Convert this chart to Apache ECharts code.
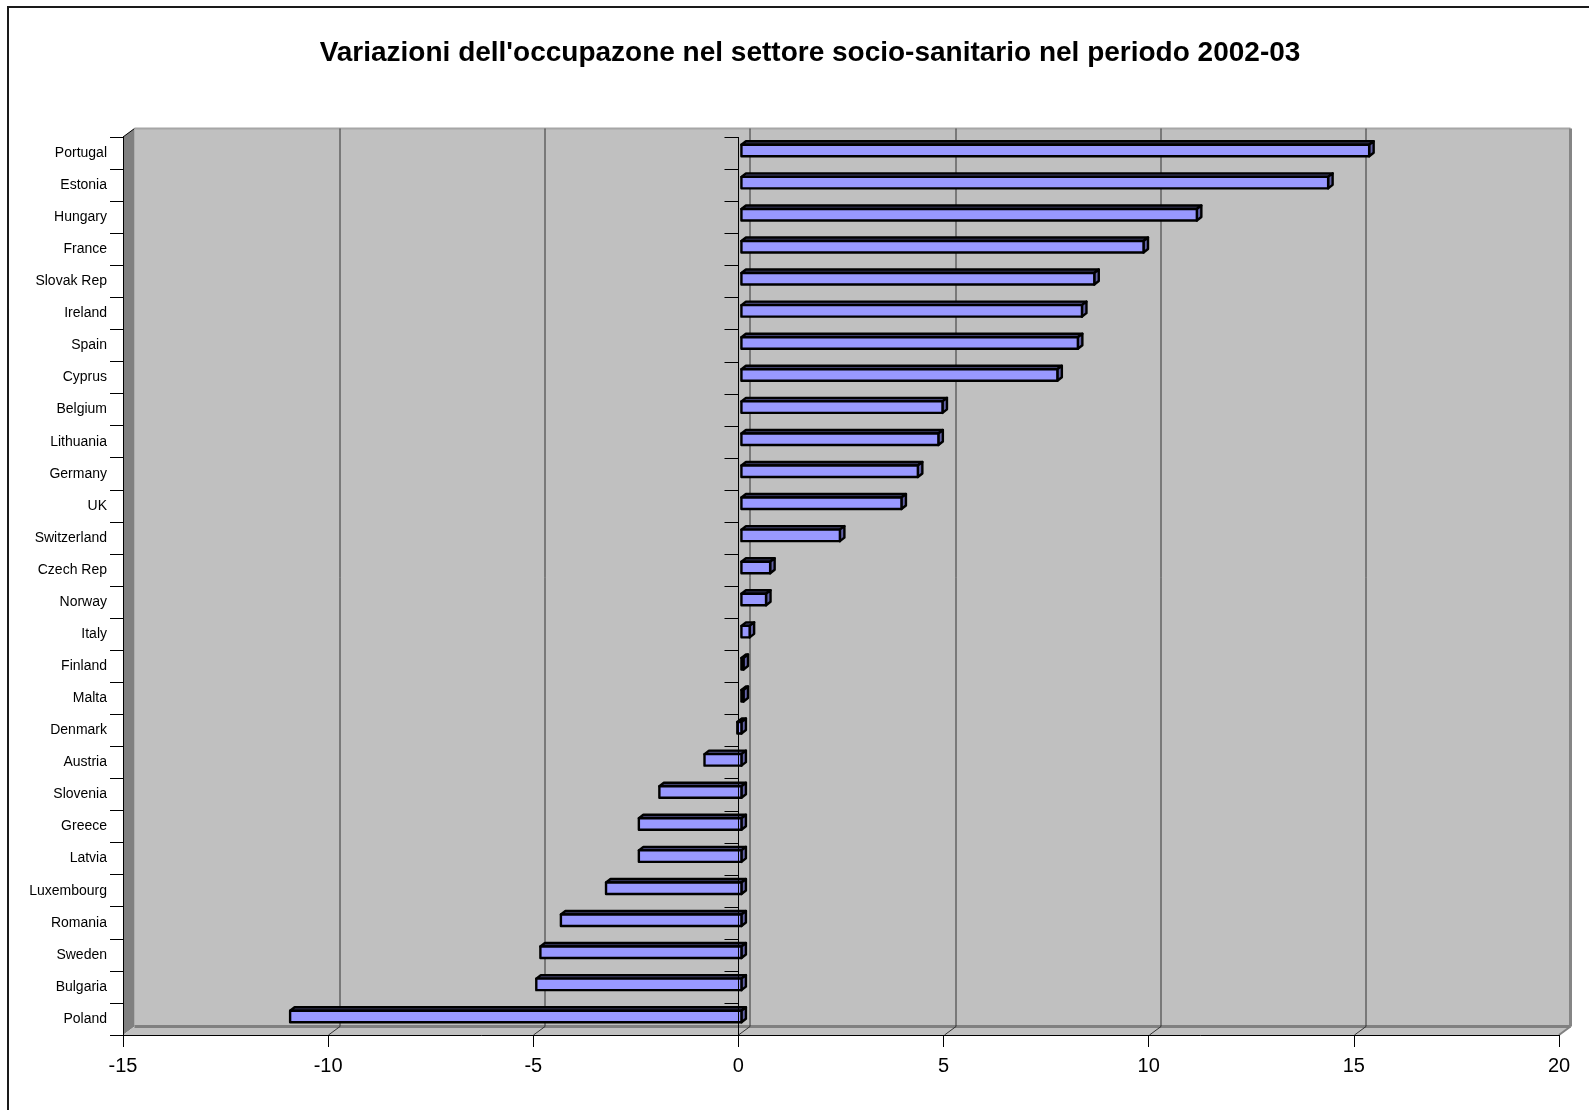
<!DOCTYPE html>
<html>
<head>
<meta charset="utf-8">
<script src="https://cdn.jsdelivr.net/npm/echarts@6/dist/echarts.min.js"></script>
<style>
  html, body { margin: 0; padding: 0; background: #ffffff; }
  #chart { width: 1589px; height: 1110px; }
</style>
</head>
<body>
<div id="chart"></div>
<script>
// Employment change in the health & social sector, 2002-03 (percent)
const countries = [
  'Portugal', 'Estonia', 'Hungary', 'France', 'Slovak Rep', 'Ireland', 'Spain',
  'Cyprus', 'Belgium', 'Lithuania', 'Germany', 'UK', 'Switzerland', 'Czech Rep',
  'Norway', 'Italy', 'Finland', 'Malta', 'Denmark', 'Austria', 'Slovenia',
  'Greece', 'Latvia', 'Luxembourg', 'Romania', 'Sweden', 'Bulgaria', 'Poland'
];
const changes = [
  15.3, 14.3, 11.1, 9.8, 8.6, 8.3, 8.2,
  7.7, 4.9, 4.8, 4.3, 3.9, 2.4, 0.7,
  0.6, 0.2, 0.05, 0.05, -0.1, -0.9, -2.0,
  -2.5, -2.5, -3.3, -4.4, -4.9, -5.0, -11.0
];
const valueTicks = [-15, -10, -5, 0, 5, 10, 15, 20];
const titleText = "Variazioni dell'occupazone nel settore socio-sanitario nel periodo 2002-03";

const FONT = '"Liberation Sans", Arial, sans-serif';

// pseudo-3D depth of the plot box (back wall offset from the front plane)
const WALL_DX = 11.5, WALL_DY = -8.5;
// bar slab: shift of its front face, half height and depth
const BAR_FX = 3, BAR_FY = -2.5, BAR_HALF = 5.75, BAR_DX = 4.5, BAR_DY = -3.5;

const chart = echarts.init(document.getElementById('chart'), null, { renderer: 'canvas' });

function wallsItem(params) {
  const cs = params.coordSys;
  const x0 = cs.x, x1 = cs.x + cs.width, t = cs.y, b = cs.y + cs.height;
  const dx = WALL_DX, dy = WALL_DY;
  return {
    type: 'group',
    children: [
      // back wall
      { type: 'rect', shape: { x: x0 + dx, y: t + dy, width: x1 - x0, height: b - t },
        style: { fill: '#c0c0c0', stroke: null } },
      // left side wall
      { type: 'polygon', shape: { points: [[x0, t], [x0 + dx, t + dy], [x0 + dx, b + dy], [x0, b]] },
        style: { fill: '#808080', stroke: null } },
      { type: 'line', shape: { x1: x0, y1: t, x2: x0 + dx, y2: t + dy },
        style: { stroke: '#000', lineWidth: 1 } },
      // floor
      { type: 'polygon', shape: { points: [[x0, b], [x0 + dx, b + dy], [x1 + dx, b + dy], [x1, b]] },
        style: { fill: '#c0c0c0', stroke: null } },
      // wall borders
      { type: 'line', shape: { x1: x0 + dx, y1: t + dy, x2: x1 + dx, y2: t + dy },
        style: { stroke: '#a6a6a6', lineWidth: 2 } },
      { type: 'line', shape: { x1: x1 + dx, y1: t + dy, x2: x1 + dx, y2: b + dy },
        style: { stroke: '#858585', lineWidth: 3 } },
      { type: 'line', shape: { x1: x0 + dx, y1: b + dy, x2: x1 + dx, y2: b + dy },
        style: { stroke: '#808080', lineWidth: 3 } },
      { type: 'line', shape: { x1: x1, y1: b, x2: x1 + dx, y2: b + dy },
        style: { stroke: '#808080', lineWidth: 2 } }
    ]
  };
}

function gridItem(params, api) {
  const v = api.value(0);
  const cs = params.coordSys;
  const t = cs.y, b = cs.y + cs.height;
  const x = Math.round(api.coord([v, 0])[0]) + 0.5;
  if (v === valueTicks[0] || v === valueTicks[valueTicks.length - 1]) return null;
  return {
    type: 'group',
    children: [
      { type: 'line', shape: { x1: x + WALL_DX, y1: t + WALL_DY, x2: x + WALL_DX, y2: b + WALL_DY },
        style: { stroke: '#333333', lineWidth: 1 } },
      { type: 'line', shape: { x1: x, y1: b, x2: x + WALL_DX, y2: b + WALL_DY },
        style: { stroke: '#333333', lineWidth: 1 } }
    ]
  };
}

function barItem(params, api) {
  const v = api.value(0), idx = api.value(1);
  const a = api.coord([0, idx]);
  const c = api.coord([v, idx]);
  const xl = Math.min(a[0], c[0]) + BAR_FX;
  const xr = Math.max(a[0], c[0]) + BAR_FX;
  const yc = a[1] + BAR_FY;
  const yt = yc - BAR_HALF, yb = yc + BAR_HALF;
  const edge = { stroke: '#000', lineWidth: 2.4, lineJoin: 'round' };
  return {
    type: 'group',
    children: [
      { type: 'polygon',
        shape: { points: [[xl, yt], [xl + BAR_DX, yt + BAR_DY], [xr + BAR_DX, yt + BAR_DY], [xr, yt]] },
        style: Object.assign({ fill: '#40406b' }, edge) },
      { type: 'polygon',
        shape: { points: [[xr, yt], [xr + BAR_DX, yt + BAR_DY], [xr + BAR_DX, yb + BAR_DY], [xr, yb]] },
        style: Object.assign({ fill: '#6363a6' }, edge) },
      { type: 'rect', shape: { x: xl, y: yt, width: xr - xl, height: yb - yt },
        style: Object.assign({ fill: '#9999ff' }, edge) }
    ]
  };
}

// category axis crossing the value axis at zero, with its own ticks
function zeroAxisItem(params, api) {
  const cs = params.coordSys;
  const x = Math.round(api.coord([0, 0])[0]) + 0.5;
  const band = api.size([0, 1])[1];
  const children = [
    { type: 'line', shape: { x1: x, y1: cs.y, x2: x, y2: cs.y + cs.height },
      style: { stroke: '#000', lineWidth: 1 } }
  ];
  for (let k = 0; k < countries.length; k++) {
    const y = Math.round(cs.y + k * band) + 0.5;
    children.push({ type: 'line', shape: { x1: x - 14, y1: y, x2: x, y2: y },
      style: { stroke: '#000', lineWidth: 1 } });
  }
  return { type: 'group', children };
}

const option = {
  backgroundColor: '#ffffff',
  animation: false,
  grid: { left: 123, right: 30, top: 137, bottom: 75, containLabel: false },
  xAxis: {
    type: 'value',
    min: -15, max: 20, interval: 5,
    z: 10,
    axisLine: { show: true, onZero: false, lineStyle: { color: '#000', width: 1 } },
    axisTick: { show: true, length: 12, lineStyle: { color: '#000', width: 1 } },
    axisLabel: {
      show: true, fontSize: 20, color: '#000', fontFamily: FONT, margin: 21,
      showMinLabel: true, showMaxLabel: true,
      formatter: v => String(v)
    },
    splitLine: { show: false }
  },
  yAxis: {
    type: 'category',
    data: countries,
    inverse: true,
    z: 10,
    axisLine: { show: true, onZero: false, lineStyle: { color: '#000', width: 1 } },
    axisTick: { show: true, length: 13, lineStyle: { color: '#000', width: 1 } },
    axisLabel: { fontSize: 14, color: '#000', fontFamily: FONT, margin: 16, interval: 0 },
    splitLine: { show: false }
  },
  graphic: [
    { type: 'rect', z: 100, silent: true,
      shape: { x: 8, y: 7, width: 1620, height: 1140 },
      style: { fill: null, stroke: '#1a1a1a', lineWidth: 2 } },
    { type: 'text', z: 100, x: 810, y: 53,
      style: { text: titleText, font: 'bold 28px ' + FONT, fill: '#000',
               textAlign: 'center', textVerticalAlign: 'middle' } }
  ],
  series: [
    { type: 'custom', name: 'walls', z: 1, silent: true,
      renderItem: wallsItem, data: [[0, 0]], encode: { x: 0, y: 1 }, clip: false },
    { type: 'custom', name: 'gridlines', z: 2, silent: true,
      renderItem: gridItem, data: valueTicks.map(v => [v, 0]), encode: { x: 0, y: 1 }, clip: false },
    { type: 'custom', name: 'Variazione %', z: 3,
      renderItem: barItem, data: changes.map((v, i) => [v, i]), encode: { x: 0, y: 1 }, clip: false },
    { type: 'custom', name: 'zero axis', z: 4, silent: true,
      renderItem: zeroAxisItem, data: [[0, 0]], encode: { x: 0, y: 1 }, clip: false }
  ]
};

chart.setOption(option);
</script>
</body>
</html>
